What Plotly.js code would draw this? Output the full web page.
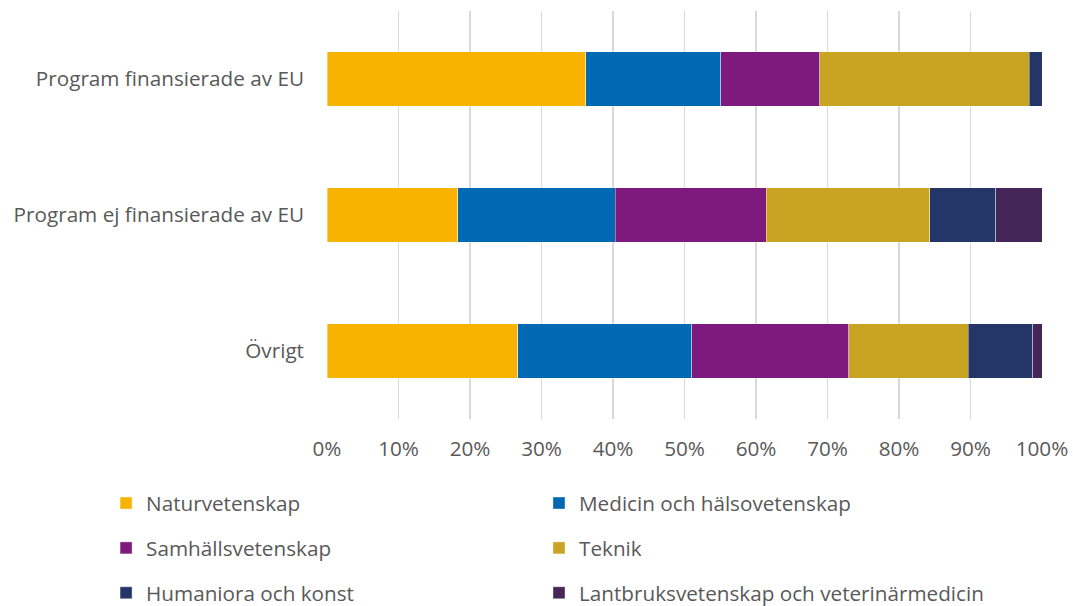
<!DOCTYPE html>
<html>
<head>
<meta charset="utf-8">
<script src="https://cdn.plot.ly/plotly-3.0.1.min.js"></script>
<style>html,body{margin:0;padding:0;background:#fff;}#chart{width:1073px;height:606px;}</style>
</head>
<body>
<div id="chart"></div>
<script>
const categories = ["Program finansierade av EU", "Program ej finansierade av EU", "Övrigt"];
const seriesNames = ["Naturvetenskap", "Medicin och hälsovetenskap", "Samhällsvetenskap", "Teknik", "Humaniora och konst", "Lantbruksvetenskap och veterinärmedicin"];
const naturvetenskap = [36.2, 18.3, 26.7];
const medicin = [18.9, 22.0, 24.3];
const samhallsvetenskap = [13.8, 21.1, 22.0];
const teknik = [29.3, 22.9, 16.7];
const humaniora = [1.8, 9.2, 9.0];
const lantbruk = [0.0, 6.5, 1.3];
const xTickVals = [0, 10, 20, 30, 40, 50, 60, 70, 80, 90, 100];
const xTickText = ["0%", "10%", "20%", "30%", "40%", "50%", "60%", "70%", "80%", "90%", "100%"];

const colors = ["#F8B200", "#0069B4", "#7E1A7D", "#C9A423", "#243567", "#462558"];
const values = [naturvetenskap, medicin, samhallsvetenskap, teknik, humaniora, lantbruk];
const legendIds = ["legend", "legend2", "legend3", "legend4", "legend5", "legend6"];

const traces = values.map((v, i) => ({
  type: "bar",
  orientation: "h",
  name: seriesNames[i],
  x: v,
  y: categories,
  legend: legendIds[i],
  marker: {color: colors[i], line: {color: "rgba(255,255,255,0.55)", width: 0.7}},
  hoverinfo: "x+name"
}));

const txtFont = {family: "Open Sans, sans-serif", size: 20.7, color: "#595959"};
const colX = [-0.309, 0.2965];
const rowY = [-0.206, -0.316, -0.426];

const layout = {
  width: 1073, height: 606,
  margin: {l: 327, r: 31, t: 11, b: 187, autoexpand: false},
  paper_bgcolor: "#fff", plot_bgcolor: "#fff",
  barmode: "stack",
  bargap: 0.6,
  font: txtFont,
  xaxis: {
    range: [0, 100], tickvals: xTickVals, ticktext: xTickText,
    showgrid: true, gridcolor: "#D9D9D9", gridwidth: 1.5,
    zeroline: false, showline: false, ticks: "",
    ticklabelstandoff: 15, tickfont: txtFont, fixedrange: true, automargin: false
  },
  yaxis: {
    type: "category", autorange: "reversed",
    showgrid: false, zeroline: false, showline: false, ticks: "",
    ticklabelstandoff: 22, tickfont: txtFont, fixedrange: true, automargin: false
  },
  showlegend: true
};

legendIds.forEach((id, i) => {
  layout[id] = {
    orientation: "h",
    x: colX[i % 2], xanchor: "left",
    y: rowY[Math.floor(i / 2)], yanchor: "middle",
    font: txtFont, bgcolor: "rgba(0,0,0,0)", itemclick: false
  };
});

Plotly.newPlot("chart", traces, layout, {displayModeBar: false, staticPlot: true});
</script>
</body>
</html>
